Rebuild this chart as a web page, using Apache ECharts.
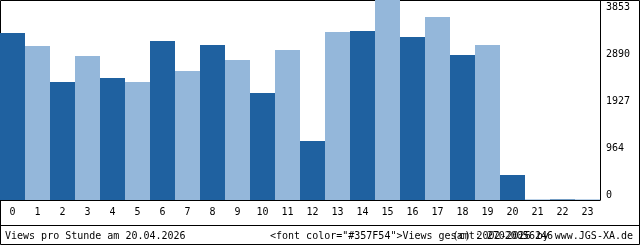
<!DOCTYPE html>
<html><head><meta charset="utf-8">
<script src="https://cdn.jsdelivr.net/npm/echarts@6/dist/echarts.min.js"></script>
<style>html,body{margin:0;padding:0;background:#fff}#c{width:640px;height:245px}</style>
</head><body><div id="c"></div>
<script>
var hours = ['0','1','2','3','4','5','6','7','8','9','10','11','12','13','14','15','16','17','18','19','20','21','22','23'];
var views = [3217,2967,2273,2774,2350,2273,3063,2485,2986,2697,2061,2890,1137,3237,3256,3853,3140,3525,2793,2986,482,12,12,12];
var tickLabels = ['0','964','1927','2890','3853'];
var maxViews = 3853;
var footerLeft = 'Views pro Stunde am 20.04.2026';
var footerMid = '<font color="#357F54">Views gesamt: 27020056246';
var footerRight = '(c) 2002-2026 by www.JGS-XA.de';

var FONT = '"DejaVu Sans Mono", monospace';
var chart = echarts.init(document.getElementById('c'), null, {renderer:'canvas'});
chart.setOption({
  animation: false,
  grid: [
    {left: 0, top: 0, width: 600, height: 200},
    {left: 0, top: 7, width: 600, height: 188}
  ],
  xAxis: [
    {type:'category', gridIndex:0, data: hours,
     axisLine:{show:true, lineStyle:{color:'#000', width:1}},
     axisTick:{show:false},
     axisLabel:{color:'#000', fontFamily:FONT, fontSize:10, margin:7, interval:0}},
    {type:'category', gridIndex:1, data: hours, show:false}
  ],
  yAxis: [
    {type:'value', gridIndex:0, min:0, max:maxViews, position:'right',
     axisLine:{show:true, lineStyle:{color:'#000', width:1}},
     axisTick:{show:false}, axisLabel:{show:false}, splitLine:{show:false}},
    {type:'value', gridIndex:1, min:0, max:maxViews, interval: maxViews/4, position:'right',
     axisLine:{show:false}, axisTick:{show:false}, splitLine:{show:false},
     axisLabel:{color:'#000', fontFamily:FONT, fontSize:10, margin:6,
       formatter:function(v){ return tickLabels[Math.round(v/(maxViews/4))] || ''; }}}
  ],
  series: [{
    type:'bar', xAxisIndex:0, yAxisIndex:0, data: views,
    barCategoryGap:'0%', z:5,
    itemStyle:{color:function(p){ return p.dataIndex % 2 === 0 ? '#1F61A0' : '#94B7DA'; }}
  }],
  graphic: [
    {type:'rect', z:0, silent:true, shape:{x:0.5, y:0.5, width:639, height:244},
     style:{fill:'none', stroke:'#000', lineWidth:1}},
    {type:'line', z:0, silent:true, shape:{x1:0, y1:225.5, x2:640, y2:225.5},
     style:{stroke:'#000', lineWidth:1}},
    {type:'text', z:10, left:5, top:231, style:{text:footerLeft, fill:'#000', font:'10px "DejaVu Sans Mono"'}},
    {type:'text', z:10, left:270, top:231, style:{text:footerMid, fill:'#000', font:'10px "DejaVu Sans Mono"'}},
    {type:'text', z:10, right:7, top:231, style:{text:footerRight, fill:'#000', font:'10px "DejaVu Sans Mono"'}}
  ]
});
</script></body></html>
